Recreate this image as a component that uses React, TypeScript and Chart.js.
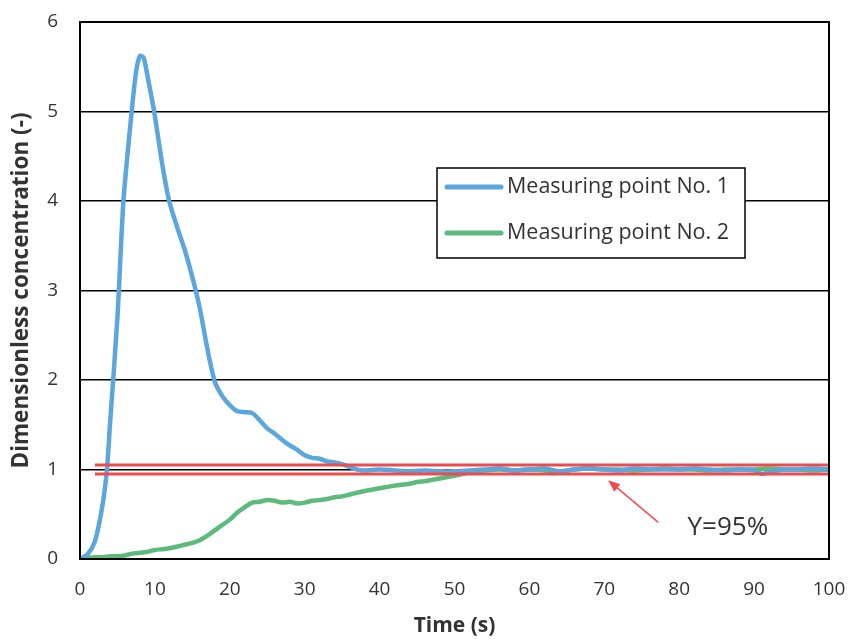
import React, { useEffect, useRef } from "react";
import { Chart, registerables } from "chart.js";

Chart.register(...registerables);

const blueTime = [0, 1, 2, 3, 3.6, 4, 5, 5.8, 6.9, 7.5, 8, 8.5, 9, 9.9, 11, 11.9, 13, 14, 15, 16, 17, 18, 19, 20, 21, 22, 23, 24, 25, 26, 27, 28, 29, 30, 31, 32, 33, 34, 35, 36, 37, 38, 40, 42, 44, 46, 48, 50, 52, 54, 56, 58, 60, 62, 64, 66, 68, 70, 72, 74, 76, 78, 80, 82, 84, 86, 88, 90, 91, 92, 94, 96, 98, 100];
const blueValues = [0, 0.05, 0.2, 0.6, 1.0, 1.5, 2.7, 4.0, 5.0, 5.45, 5.62, 5.6, 5.4, 5.0, 4.4, 4.0, 3.7, 3.45, 3.15, 2.8, 2.35, 1.98, 1.82, 1.72, 1.65, 1.64, 1.63, 1.55, 1.46, 1.4, 1.33, 1.27, 1.22, 1.16, 1.13, 1.12, 1.09, 1.08, 1.06, 1.03, 1.0, 0.99, 1.0, 0.99, 0.98, 0.99, 0.98, 0.98, 0.99, 1.0, 1.01, 0.99, 1.0, 1.01, 0.98, 1.0, 1.01, 1.0, 0.99, 1.01, 1.0, 1.0, 1.0, 1.01, 1.0, 0.99, 1.0, 0.99, 0.95, 0.97, 1.0, 1.0, 1.01, 1.0];

const greenTime = [0, 1, 2, 3, 4, 5, 6, 7, 8, 9, 10, 11, 12, 13, 14, 15, 16, 17, 18, 19, 20, 21, 22, 23, 24, 25, 26, 27, 28, 29, 30, 31, 32, 33, 34, 35, 36, 37, 38, 40, 42, 44, 45, 46, 48, 50, 51, 52, 53, 54, 56, 58, 60, 62, 63, 64, 66, 68, 70, 72, 74, 76, 78, 80, 82, 84, 86, 88, 90, 92, 94, 96, 98, 100];
const greenValues = [0, 0.01, 0.02, 0.02, 0.03, 0.03, 0.04, 0.06, 0.07, 0.08, 0.1, 0.11, 0.12, 0.14, 0.16, 0.18, 0.21, 0.26, 0.32, 0.38, 0.44, 0.52, 0.58, 0.63, 0.64, 0.66, 0.65, 0.63, 0.64, 0.62, 0.63, 0.65, 0.66, 0.67, 0.69, 0.7, 0.72, 0.74, 0.76, 0.79, 0.82, 0.84, 0.86, 0.87, 0.9, 0.93, 0.95, 0.97, 0.98, 0.99, 1.0, 0.99, 1.0, 0.99, 0.96, 0.97, 1.0, 1.01, 1.0, 1.0, 0.99, 1.0, 1.01, 1.0, 1.0, 0.99, 1.0, 1.0, 1.0, 1.01, 1.0, 1.0, 0.99, 1.0];

const upperLimit = 1.05;
const lowerLimit = 0.95;
const limitStart = 2;
const limitEnd = 100;

const seriesNames = ["Measuring point No. 1", "Measuring point No. 2"];
const seriesColors = ["#5ba6dd", "#5cba7d"];
const limitColor = "#ee4b4f";

const annotationLabel = "Y=95%";
const arrowTip = { x: 70.5, y: 0.88 };
const arrowTail = { x: 77.2, y: 0.41 };
const labelPos = { x: 86.5, y: 0.35 };

const xTitle = "Time (s)";
const yTitle = "Dimensionless concentration (-)";

const FONT = "'Open Sans', Lato, sans-serif";

const zip = (xs: number[], ys: number[]) => xs.map((x, i) => ({ x, y: ys[i] }));

const overlayPlugin = {
  id: "overlay",
  afterDatasetsDraw(chart: any) {
    const { ctx, chartArea, scales } = chart;
    const xs = scales.x;
    const ys = scales.y;
    ctx.save();
    ctx.strokeStyle = "#000";
    ctx.lineWidth = 2;
    ctx.strokeRect(chartArea.left, chartArea.top, chartArea.right - chartArea.left, chartArea.bottom - chartArea.top);

    const tx = xs.getPixelForValue(arrowTip.x);
    const ty = ys.getPixelForValue(arrowTip.y);
    const sx = xs.getPixelForValue(arrowTail.x);
    const sy = ys.getPixelForValue(arrowTail.y);
    const ang = Math.atan2(ty - sy, tx - sx);
    const head = 13;
    ctx.strokeStyle = limitColor;
    ctx.fillStyle = limitColor;
    ctx.lineWidth = 1.5;
    ctx.beginPath();
    ctx.moveTo(sx, sy);
    ctx.lineTo(tx - Math.cos(ang) * head * 0.8, ty - Math.sin(ang) * head * 0.8);
    ctx.stroke();
    ctx.beginPath();
    ctx.moveTo(tx, ty);
    ctx.lineTo(tx - head * Math.cos(ang - 0.38), ty - head * Math.sin(ang - 0.38));
    ctx.lineTo(tx - head * Math.cos(ang + 0.38), ty - head * Math.sin(ang + 0.38));
    ctx.closePath();
    ctx.fill();

    ctx.fillStyle = "#333";
    ctx.font = `26px ${FONT}`;
    ctx.textAlign = "center";
    ctx.textBaseline = "middle";
    ctx.fillText(annotationLabel, xs.getPixelForValue(labelPos.x), ys.getPixelForValue(labelPos.y));

    const bx = chartArea.left + 357;
    const by = chartArea.top + 146;
    const bw = 308;
    const bh = 90;
    ctx.fillStyle = "#fff";
    ctx.fillRect(bx, by, bw, bh);
    ctx.strokeStyle = "#000";
    ctx.lineWidth = 1.5;
    ctx.strokeRect(bx, by, bw, bh);
    ctx.font = `21.5px ${FONT}`;
    ctx.textAlign = "left";
    ctx.textBaseline = "middle";
    seriesNames.forEach((name, i) => {
      const ly = by + 19 + i * 46;
      ctx.strokeStyle = seriesColors[i];
      ctx.lineWidth = 5;
      ctx.lineCap = "round";
      ctx.beginPath();
      ctx.moveTo(bx + 10, ly);
      ctx.lineTo(bx + 64, ly);
      ctx.stroke();
      ctx.fillStyle = "#333";
      ctx.fillText(name, bx + 70, ly);
    });
    ctx.restore();
  },
};

export default function App() {
  const ref = useRef<HTMLCanvasElement | null>(null);
  useEffect(() => {
    document.body.style.margin = "0";
    const canvas = ref.current;
    if (!canvas) return;
    const chart = new Chart(canvas, {
      type: "line",
      data: {
        datasets: [
          {
            label: seriesNames[0],
            data: zip(blueTime, blueValues),
            borderColor: seriesColors[0],
            borderWidth: 4.5,
            pointRadius: 0,
            tension: 0.25,
            order: 2,
          },
          {
            label: seriesNames[1],
            data: zip(greenTime, greenValues),
            borderColor: seriesColors[1],
            borderWidth: 4.5,
            pointRadius: 0,
            tension: 0.25,
            order: 2,
          },
          {
            label: "upper",
            data: [{ x: limitStart, y: upperLimit }, { x: limitEnd, y: upperLimit }],
            borderColor: limitColor,
            borderWidth: 3,
            pointRadius: 0,
            order: 1,
          },
          {
            label: "lower",
            data: [{ x: limitStart, y: lowerLimit }, { x: limitEnd, y: lowerLimit }],
            borderColor: limitColor,
            borderWidth: 3,
            pointRadius: 0,
            order: 1,
          },
        ],
      },
      options: {
        animation: false,
        responsive: false,
        layout: { padding: { top: 22, right: 21, left: 0, bottom: 0 } },
        plugins: { legend: { display: false }, tooltip: { enabled: false } },
        scales: {
          x: {
            type: "linear",
            min: 0,
            max: 100,
            afterFit: (s: any) => { s.height = 80; s.paddingLeft = 0; s.paddingRight = 0; },
            ticks: { stepSize: 10, padding: 19, color: "#333", font: { family: FONT, size: 19 } },
            grid: { display: false, drawTicks: false },
            border: { color: "#000", width: 2 },
            title: { display: true, text: xTitle, color: "#333", font: { family: FONT, size: 21, weight: "bold" }, padding: { top: 0, bottom: 0 } },
          },
          y: {
            min: 0,
            max: 6,
            afterFit: (s: any) => { s.width = 80; s.paddingTop = 0; s.paddingBottom = 0; },
            ticks: { stepSize: 1, padding: 22, color: "#333", font: { family: FONT, size: 19 } },
            grid: { color: "#000", lineWidth: 1.5, drawTicks: false },
            border: { color: "#000", width: 2 },
            title: { display: true, text: yTitle, color: "#333", font: { family: FONT, size: 22.5, weight: "bold" }, padding: { top: 8, bottom: 0 } },
          },
        },
      },
      plugins: [overlayPlugin],
    });
    return () => chart.destroy();
  }, []);
  return (
    <div style={{ width: 850, height: 639, background: "#fff" }}>
      <canvas ref={ref} width={850} height={639} />
    </div>
  );
}
